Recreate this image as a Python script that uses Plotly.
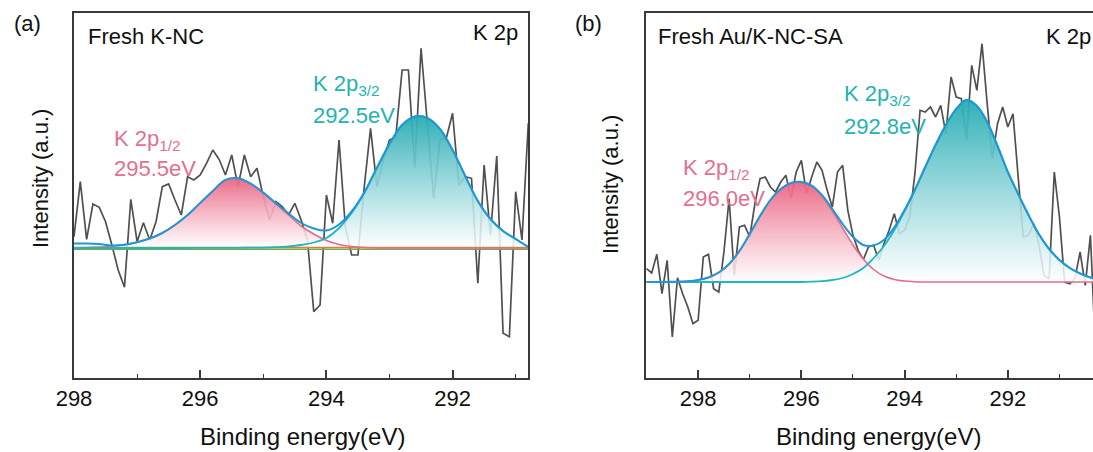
import plotly.graph_objects as go

W, H = 1093, 452

# ---------------- Panel (a): Fresh K-NC ----------------
be_a = [298.0, 297.9, 297.8, 297.7, 297.6, 297.5, 297.4, 297.3, 297.2, 297.1,
        297.0, 296.9, 296.8, 296.7, 296.6, 296.5, 296.4, 296.3, 296.2, 296.1,
        296.0, 295.9, 295.8, 295.7, 295.6, 295.5, 295.4, 295.3, 295.2, 295.1,
        295.0, 294.9, 294.8, 294.7, 294.6, 294.5, 294.4, 294.3, 294.2, 294.1,
        294.0, 293.9, 293.8, 293.7, 293.6, 293.5, 293.4, 293.3, 293.2, 293.1,
        293.0, 292.9, 292.8, 292.7, 292.6, 292.5, 292.4, 292.3, 292.2, 292.1,
        292.0, 291.9, 291.8, 291.7, 291.6, 291.5, 291.4, 291.3, 291.2, 291.1,
        291.0, 290.9, 290.8]
raw_a = [11.3, 66.3, 8.7, 44, 40.7, 26.3, 3, -22, -39.3, 48.7,
         6.3, 25.3, 8, 26.3, 61.3, 64, 48, 33, 71.3, 68,
         73, 84.7, 98, 88.7, 73, 93, 61.3, 93, 71.3, 79.7,
         51.3, 28, 46.3, 41.3, 33, 44.7, 28, 8, -63.7, -57,
         53, 24.7, 108, 21.3, -7, -7, 61.3, 119.7, 61.3, 88,
         108, 111.3, 178, 178, 79.7, 199.7, 124.7, 49.7, 108, 109.7,
         134.7, 63, 71.3, 69.7, -35.3, 83, 13, 92, -85.3, -88.7,
         56.3, 8, 124.7]

fit_x_a = [298.0, 297.8, 297.6, 297.4, 297.2, 297.0, 296.8, 296.6, 296.4, 296.2,
           296.0, 295.8, 295.6, 295.4, 295.2, 295.0, 294.8, 294.6, 294.4, 294.2,
           294.0, 293.8, 293.6, 293.4, 293.2, 293.0, 292.8, 292.6, 292.4, 292.2,
           292.0, 291.8, 291.6, 291.4, 291.2, 291.0, 290.8]
p12_a = [0.2, 0.4, 0.9, 1.8, 3.3, 5.8, 9.5, 15, 23, 33,
         45, 57, 68, 69.5, 64, 55, 44, 33, 22, 14,
         7.5, 3.5, 1.5, 0.5, 0.1, 0, 0, 0, 0, 0,
         0, 0, 0, 0, 0, 0, 0]
p32_a = [0, 0, 0, 0, 0, 0, 0, 0, 0, 0,
         0.1, 0.1, 0.2, 0.2, 0.3, 0.4, 0.8, 1.6, 3, 5.5,
         10, 20, 35, 55, 80, 104, 123, 131.5, 130, 119,
         98, 72, 47, 29, 17, 9, 1]
env_a = [4.5, 4.6, 4, 2.5, 3.3, 5.8, 9.5, 15, 23, 33,
         45.1, 57.1, 68.2, 69.7, 64.3, 55.4, 44.8, 34.6, 25, 19.5,
         17.5, 23.5, 36.5, 55.5, 80.1, 104, 123, 131.5, 130, 119,
         98, 72, 47, 29, 17, 9, 1]
bg_x_a = [298.0, 290.8]
bg_orange_a = [0.5, 0.5]
bg_green_a = [-1.2, -1.2]

# ---------------- Panel (b): Fresh Au/K-NC-SA ----------------
be_b = [299.0, 298.9, 298.8, 298.7, 298.6, 298.5, 298.4, 298.3, 298.2, 298.1,
        298.0, 297.9, 297.8, 297.7, 297.6, 297.5, 297.4, 297.3, 297.2, 297.1,
        297.0, 296.9, 296.8, 296.7, 296.6, 296.5, 296.4, 296.3, 296.2, 296.1,
        296.0, 295.9, 295.8, 295.7, 295.6, 295.5, 295.4, 295.3, 295.2, 295.1,
        295.0, 294.9, 294.8, 294.7, 294.6, 294.5, 294.4, 294.3, 294.2, 294.1,
        294.0, 293.9, 293.8, 293.7, 293.6, 293.5, 293.4, 293.3, 293.2, 293.1,
        293.0, 292.9, 292.8, 292.7, 292.6, 292.5, 292.4, 292.3, 292.2, 292.1,
        292.0, 291.9, 291.8, 291.7, 291.6, 291.5, 291.4, 291.3, 291.2, 291.1,
        291.0, 290.9, 290.8, 290.7, 290.6, 290.5, 290.4, 290.3]
raw_b = [13.3, 9, 27.7, -11.7, 21.7, -55, 4.3, -11.7, -25, -41.7,
         -38.3, 25, 27.7, -6.7, -10, 30, 83.3, 6.7, 55, 56.7,
         45, 78.3, 103.3, 105, 95, 90, 100, 106.7, 83.3, 110,
         121.7, 88.3, 105, 120, 111.7, 91.7, 75, 110, 116.7, 71.7,
         46.7, 31.7, 22.3, 35, 36.7, 21.7, 38.3, 51.7, 68.3, 48.3,
         51.7, 65, 108.3, 171.7, 170, 175, 165, 176.7, 148.3, 205,
         185, 183.3, 141.7, 216.7, 191.7, 238.3, 178.3, 123.3, 158.3, 175,
         155, 168.3, 105, 45, 46.7, 58.3, 38.3, 6.7, 3.3, 110,
         65, 0, -1.7, 3.3, 30, -3.3, 46.7, -70]

fit_x_b = [299.0, 298.8, 298.6, 298.4, 298.2, 298.0, 297.8, 297.6, 297.4, 297.2,
           297.0, 296.8, 296.6, 296.4, 296.2, 296.0, 295.8, 295.6, 295.4, 295.2,
           295.0, 294.8, 294.6, 294.4, 294.2, 294.0, 293.8, 293.6, 293.4, 293.2,
           293.0, 292.8, 292.6, 292.4, 292.2, 292.0, 291.8, 291.6, 291.4, 291.2,
           291.0, 290.8, 290.6, 290.4, 290.2]
p12_b = [0, 0, 0.1, 0.3, 0.8, 2, 4.5, 9.5, 18, 31,
         48, 66, 82, 93, 99, 100, 96, 86, 71, 54,
         37, 23, 12.5, 6, 2.5, 1, 0.3, 0, 0, 0,
         0, 0, 0, 0, 0, 0, 0, 0, 0, 0,
         0, 0, 0, 0, 0]
p32_b = [0, 0, 0, 0, 0, 0, 0, 0, 0, 0,
         0, 0, 0, 0, 0, 0, 0.3, 0.8, 2, 4,
         8, 14, 24, 36, 52, 71, 92, 115, 137, 157,
         173, 182, 176, 160, 136, 110, 88, 67, 48, 33,
         22, 14, 8.5, 4.5, 2]
env_b = [0, 0, 0.1, 0.3, 0.8, 2, 4.5, 9.5, 18, 31,
         48, 66, 82, 93, 99, 100, 96.3, 86.8, 73, 58,
         45, 37, 36.5, 42, 54.5, 72, 92.3, 115, 137, 157,
         173, 182, 176, 160, 136, 110, 88, 67, 48, 33,
         22, 14, 8.5, 4.5, 2]

tick_vals = [298, 296, 294, 292]
minor_vals = [299, 297, 295, 293, 291]

# ---------------- styling ----------------
FONT = "Arial, Liberation Sans, sans-serif"
GRAY = "rgb(80,80,80)"
PINK_LINE = "rgb(228,108,140)"
TEAL_LINE = "rgb(30,184,194)"
BLUE_LINE = "rgb(32,150,214)"
PINK_TXT = "rgb(226,112,142)"
TEAL_TXT = "rgb(36,178,178)"
AXC = "#3a3a3a"

pink_scale = [[0, "rgba(255,255,255,0.85)"], [1, "rgba(234,100,130,0.95)"]]
teal_scale = [[0, "rgba(255,255,255,0.85)"], [1, "rgba(38,172,180,0.95)"]]

fig = go.Figure()


def add_panel(xa, ya, be, raw, fx, p12, p32, env, peak12, peak32, baselines):
    fig.add_trace(go.Scatter(x=be, y=raw, mode="lines", xaxis=xa, yaxis=ya,
                             line=dict(color=GRAY, width=1.7), showlegend=False))
    fig.add_trace(go.Scatter(x=fx, y=p12, mode="lines", xaxis=xa, yaxis=ya,
                             line=dict(width=0, shape="spline"), fill="tozeroy",
                             fillgradient=dict(type="vertical", colorscale=pink_scale,
                                               start=0, stop=peak12),
                             showlegend=False, hoverinfo="skip"))
    fig.add_trace(go.Scatter(x=fx, y=p32, mode="lines", xaxis=xa, yaxis=ya,
                             line=dict(width=0, shape="spline"), fill="tozeroy",
                             fillgradient=dict(type="vertical", colorscale=teal_scale,
                                               start=0, stop=peak32),
                             showlegend=False, hoverinfo="skip"))
    for bx, by, col in baselines:
        fig.add_trace(go.Scatter(x=bx, y=by, mode="lines", xaxis=xa, yaxis=ya,
                                 line=dict(color=col, width=1.6), showlegend=False))
    fig.add_trace(go.Scatter(x=fx, y=p12, mode="lines", xaxis=xa, yaxis=ya,
                             line=dict(color=PINK_LINE, width=1.6, shape="spline"),
                             showlegend=False))
    fig.add_trace(go.Scatter(x=fx, y=p32, mode="lines", xaxis=xa, yaxis=ya,
                             line=dict(color=TEAL_LINE, width=1.8, shape="spline"),
                             showlegend=False))
    fig.add_trace(go.Scatter(x=fx, y=env, mode="lines", xaxis=xa, yaxis=ya,
                             line=dict(color=BLUE_LINE, width=2, shape="spline"),
                             showlegend=False))


add_panel("x", "y", be_a, raw_a, fit_x_a, p12_a, p32_a, env_a, 70, 132,
          [(bg_x_a, bg_green_a, "rgb(120,172,60)"), (bg_x_a, bg_orange_a, "rgb(214,128,70)")])
add_panel("x2", "y2", be_b, raw_b, fit_x_b, p12_b, p32_b, env_b, 100, 182, [])


def px(x):
    return x / W


def py(y):
    return 1 - y / H


xcommon = dict(showline=True, linecolor=AXC, linewidth=1.5, mirror=True,
               ticks="inside", ticklen=8, tickwidth=1.5, tickcolor=AXC,
               tickvals=tick_vals, ticktext=[str(v) for v in tick_vals],
               tickfont=dict(family=FONT, size=22, color="#111"),
               minor=dict(ticks="inside", ticklen=4, tickwidth=1.3, tickcolor=AXC,
                          tickvals=minor_vals),
               showgrid=False, zeroline=False, automargin=False)
ycommon = dict(showline=True, linecolor=AXC, linewidth=1.5,
               ticks="", showticklabels=False, showgrid=False, zeroline=False,
               automargin=False, domain=[py(378), py(13)])

fig.update_layout(
    width=W, height=H,
    margin=dict(l=0, r=0, t=0, b=0),
    paper_bgcolor="white", plot_bgcolor="white",
    font=dict(family=FONT, color="#111"),
    xaxis=dict(domain=[px(74), px(528.3)], range=[298.0, 290.8], anchor="y", **xcommon),
    yaxis=dict(range=[-130, 235], anchor="x", mirror=True, **ycommon),
    xaxis2=dict(domain=[px(646), 1.0], range=[299.01, 290.35], anchor="y2", **xcommon),
    yaxis2=dict(range=[-96, 269], anchor="x2", mirror=False, **ycommon),
)

anns = [
    # panel labels
    dict(x=px(27), y=py(24), text="(a)", xanchor="center", yanchor="middle", size=22, color="#111"),
    dict(x=px(588), y=py(23), text="(b)", xanchor="center", yanchor="middle", size=22, color="#111"),
    # titles in panel
    dict(x=px(86), y=py(37), text="Fresh K-NC", xanchor="left", yanchor="middle", size=22, color="#111"),
    dict(x=px(520), y=py(33), text="K 2p", xanchor="right", yanchor="middle", size=22, color="#111"),
    dict(x=px(656), y=py(37), text="Fresh Au/K-NC-SA", xanchor="left", yanchor="middle", size=22, color="#111"),
    dict(x=px(1093), y=py(37), text="K 2p", xanchor="right", yanchor="middle", size=22, color="#111"),
    # peak labels (a)
    dict(x=px(112), y=py(140), text="K 2p<sub>1/2</sub>", xanchor="left", yanchor="middle", size=22, color=PINK_TXT),
    dict(x=px(112), y=py(168), text="295.5eV", xanchor="left", yanchor="middle", size=22, color=PINK_TXT),
    dict(x=px(311), y=py(85), text="K 2p<sub>3/2</sub>", xanchor="left", yanchor="middle", size=22, color=TEAL_TXT),
    dict(x=px(311), y=py(115), text="292.5eV", xanchor="left", yanchor="middle", size=22, color=TEAL_TXT),
    # peak labels (b)
    dict(x=px(681), y=py(169), text="K 2p<sub>1/2</sub>", xanchor="left", yanchor="middle", size=22, color=PINK_TXT),
    dict(x=px(681), y=py(198), text="296.0eV", xanchor="left", yanchor="middle", size=22, color=PINK_TXT),
    dict(x=px(842), y=py(95), text="K 2p<sub>3/2</sub>", xanchor="left", yanchor="middle", size=22, color=TEAL_TXT),
    dict(x=px(842), y=py(126), text="292.8eV", xanchor="left", yanchor="middle", size=22, color=TEAL_TXT),
    # axis titles
    dict(x=px(302), y=py(436), text="Binding energy(eV)", xanchor="center", yanchor="middle", size=24, color="#111"),
    dict(x=px(878), y=py(436), text="Binding energy(eV)", xanchor="center", yanchor="middle", size=24, color="#111"),
]
for a in anns:
    fig.add_annotation(x=a["x"], y=a["y"], xref="paper", yref="paper", text=a["text"],
                       showarrow=False, xanchor=a["xanchor"], yanchor=a["yanchor"],
                       font=dict(family=FONT, size=a["size"], color=a["color"]))

for xc, yc in [(40, 179), (610, 185)]:
    fig.add_annotation(x=px(xc), y=py(yc), xref="paper", yref="paper", text="Intensity (a.u.)",
                       showarrow=False, textangle=-90, xanchor="center", yanchor="middle",
                       font=dict(family=FONT, size=22, color="#111"))

fig.write_html("out.html")
